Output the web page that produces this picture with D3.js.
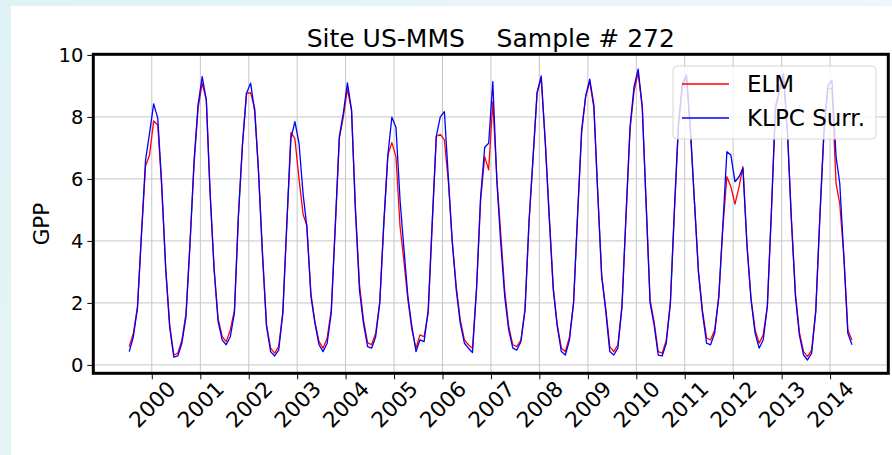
<!DOCTYPE html>
<html>
<head>
<meta charset="utf-8">
<script src="https://cdn.jsdelivr.net/npm/d3@7"></script>
<style>
  html, body { margin: 0; padding: 0; background: #ffffff; }
  svg { display: block; }
  text { font-family: "DejaVu Sans", sans-serif; fill: #000; }
</style>
</head>
<body>
<svg id="chart" width="892" height="455"></svg>
<script>
// Monthly GPP, first month and series
const startMonth = [1999, 6];   // July 1999 (month index 6)
const seriesNames = ["ELM", "KLPC Surr."];
const seriesColors = ["#ff0000", "#0000ff"];

const elm = [
  0.59, 1.02, 1.88, 4.2, 6.42, 6.77, 7.87, 7.74, 5.8, 3.1, 1.3, 0.32,
  0.38, 0.8, 1.67, 3.9, 6.5, 8.28, 9.09, 8.55, 5.6, 3.1, 1.5, 0.91,
  0.75, 1.13, 1.77, 4.8, 7.1, 8.76, 8.78, 8.28, 6.3, 3.6, 1.3, 0.54,
  0.38, 0.6, 1.7, 4.5, 7.5, 7.3, 6.0, 4.85, 4.5, 2.3, 1.4, 0.75,
  0.54, 0.86, 1.77, 4.4, 7.3, 8.0, 8.9, 8.2, 5.1, 2.6, 1.45, 0.72,
  0.65, 1.02, 2.05, 4.5, 6.77, 7.17, 6.72, 4.46, 3.39, 2.1, 1.13, 0.54,
  0.97, 0.91, 1.67, 4.5, 7.37, 7.44, 7.26, 5.86, 4.0, 2.5, 1.45, 0.81,
  0.65, 0.54, 2.5, 5.3, 6.72, 6.29, 8.49, 6.0, 4.3, 2.4, 1.24, 0.65,
  0.59, 0.8, 1.8, 4.6, 6.7, 8.78, 9.25, 7.2, 4.9, 2.5, 1.3, 0.54,
  0.43, 0.9, 2.0, 4.8, 7.5, 8.66, 9.14, 8.3, 5.7, 2.9, 1.85, 0.59,
  0.43, 0.65, 1.9, 4.75, 7.6, 8.82, 9.43, 8.3, 5.35, 2.1, 1.4, 0.43,
  0.38, 0.8, 2.0, 4.9, 7.7, 9.0, 9.25, 7.4, 5.3, 3.0, 1.75, 0.86,
  0.81, 1.13, 2.2, 4.4, 6.07, 5.75, 5.19, 5.75, 6.4, 3.85, 2.15, 1.13,
  0.7, 0.97, 1.9, 4.85, 8.25, 8.8, 9.25, 7.4, 4.75, 2.3, 1.05, 0.43,
  0.27, 0.48, 1.75, 4.65, 7.4, 8.92, 8.92, 5.86, 5.2, 3.5, 1.13, 0.8
];

const klpc = [
  0.43, 0.91, 1.83, 4.2, 6.61, 7.47, 8.42, 7.96, 5.9, 3.1, 1.2, 0.25,
  0.29, 0.7, 1.56, 3.9, 6.6, 8.39, 9.3, 8.55, 5.6, 3.06, 1.4, 0.8,
  0.65, 0.91, 1.67, 4.8, 7.15, 8.76, 9.09, 8.17, 6.29, 3.5, 1.24, 0.43,
  0.29, 0.48, 1.67, 4.57, 7.3, 7.85, 7.15, 5.5, 4.46, 2.2, 1.34, 0.65,
  0.43, 0.7, 1.67, 4.46, 7.37, 8.12, 9.1, 8.23, 5.0, 2.4, 1.34, 0.59,
  0.54, 0.91, 2.0, 4.57, 6.77, 7.99, 7.67, 5.3, 3.8, 2.2, 1.24, 0.43,
  0.81, 0.75, 1.77, 4.57, 7.37, 8.0, 8.17, 5.97, 4.0, 2.4, 1.34, 0.7,
  0.54, 0.4, 2.5, 5.4, 7.02, 7.15, 9.14, 5.9, 4.0, 2.2, 1.13, 0.54,
  0.48, 0.75, 1.77, 4.6, 6.72, 8.78, 9.32, 7.15, 4.78, 2.42, 1.24, 0.43,
  0.32, 0.8, 2.0, 4.8, 7.58, 8.66, 9.22, 8.39, 5.65, 2.85, 1.77, 0.43,
  0.32, 0.54, 1.88, 4.78, 7.69, 8.98, 9.54, 8.33, 5.3, 2.0, 1.3, 0.32,
  0.29, 0.7, 2.0, 5.0, 7.8, 9.1, 9.35, 7.47, 5.3, 2.96, 1.67, 0.7,
  0.65, 1.03, 2.2, 4.46, 6.88, 6.77, 5.91, 6.07, 6.34, 3.82, 2.1, 1.02,
  0.54, 0.81, 1.88, 4.89, 8.33, 8.87, 9.4, 7.4, 4.7, 2.2, 0.95, 0.32,
  0.16, 0.38, 1.72, 4.7, 7.5, 9.0, 9.19, 6.72, 5.86, 3.5, 1.02, 0.65
];

const yTicks = [0, 2, 4, 6, 8, 10];
const xTickYears = [2000, 2001, 2002, 2003, 2004, 2005, 2006, 2007,
                    2008, 2009, 2010, 2011, 2012, 2013, 2014];
const titleText = "Site US-MMS    Sample # 272";
const yLabelText = "GPP";

// Layout
const W = 892, H = 455;
const plot = { left: 93.3, right: 888.3, top: 54.3, bottom: 373.3 };

const svg = d3.select("#chart");

// Page background: pale cyan border strip with a white panel
const defs = svg.append("defs");
const grad = defs.append("linearGradient").attr("id", "bg").attr("x1", 0).attr("x2", 1).attr("y1", 0).attr("y2", 0.4);
grad.append("stop").attr("offset", "0%").attr("stop-color", "#dff2f5");
grad.append("stop").attr("offset", "100%").attr("stop-color", "#f0f8fa");
svg.append("rect").attr("width", W).attr("height", H).attr("fill", "url(#bg)");
svg.append("rect").attr("x", 11).attr("y", 6).attr("width", W - 11).attr("height", H - 6).attr("fill", "#ffffff");

// Dates for each monthly value
const dates = elm.map((_, i) => new Date(startMonth[0], startMonth[1] + i, 15));

const x = d3.scaleTime()
  .domain([new Date(1998, 9, 17), new Date(2015, 2, 16)])
  .range([plot.left, plot.right]);

const y = d3.scaleLinear()
  .domain([-0.27, 10.02])
  .range([plot.bottom, plot.top]);

const xTickDates = xTickYears.map(yr => new Date(yr, 0, 1));

// Grid
const grid = svg.append("g").attr("stroke", "#c6c6c6").attr("stroke-width", 1);
grid.selectAll("line.v").data(xTickDates).join("line")
  .attr("x1", d => x(d)).attr("x2", d => x(d))
  .attr("y1", plot.top).attr("y2", plot.bottom);
grid.selectAll("line.h").data(yTicks).join("line")
  .attr("x1", plot.left).attr("x2", plot.right)
  .attr("y1", d => y(d)).attr("y2", d => y(d));

// Axes
const xAxis = d3.axisBottom(x).tickValues(xTickDates).tickSize(6).tickFormat(d3.timeFormat("%Y"));
const gx = svg.append("g").attr("transform", `translate(0,${plot.bottom})`).call(xAxis);
gx.select(".domain").remove();
gx.selectAll(".tick line").attr("stroke", "#000").attr("stroke-width", 1);
gx.selectAll(".tick text")
  .attr("font-size", 21.5)
  .attr("font-family", "DejaVu Sans")
  .attr("text-anchor", "middle")
  .attr("dominant-baseline", "central")
  .attr("dy", null)
  .attr("y", 0)
  .attr("transform", "translate(0,31) rotate(-45)");

const yAxis = d3.axisLeft(y).tickValues(yTicks).tickSize(6).tickPadding(4);
const gy = svg.append("g").attr("transform", `translate(${plot.left},0)`).call(yAxis);
gy.select(".domain").remove();
gy.selectAll(".tick line").attr("stroke", "#000").attr("stroke-width", 1);
gy.selectAll(".tick text").attr("font-size", 19.5).attr("font-family", "DejaVu Sans");

// Series lines
const line = d3.line().x((d, i) => x(dates[i])).y(d => y(d));
[elm, klpc].forEach((s, k) => {
  svg.append("path")
    .datum(s)
    .attr("fill", "none")
    .attr("stroke", seriesColors[k])
    .attr("stroke-width", 1.3)
    .attr("stroke-linejoin", "round")
    .attr("d", line);
});

// Frame
svg.append("rect")
  .attr("x", plot.left).attr("y", plot.top)
  .attr("width", plot.right - plot.left).attr("height", plot.bottom - plot.top)
  .attr("fill", "none").attr("stroke", "#000").attr("stroke-width", 3);

// Title
svg.append("text")
  .attr("x", (plot.left + plot.right) / 2).attr("y", 47)
  .attr("text-anchor", "middle")
  .attr("font-size", 25)
  .style("white-space", "pre")
  .text(titleText);

// Y label
svg.append("text")
  .attr("transform", "translate(41,224) rotate(-90)")
  .attr("text-anchor", "middle")
  .attr("dominant-baseline", "central")
  .attr("font-size", 21.5)
  .text(yLabelText);

// Legend
const lg = svg.append("g").attr("transform", "translate(673,66)");
lg.append("rect")
  .attr("width", 203).attr("height", 73).attr("rx", 4)
  .attr("fill", "#ffffff").attr("fill-opacity", 0.8)
  .attr("stroke", "#d6d6d6").attr("stroke-width", 1);
seriesNames.forEach((name, k) => {
  const ly = 18 + k * 34;
  lg.append("line")
    .attr("x1", 9).attr("x2", 56).attr("y1", ly).attr("y2", ly)
    .attr("stroke", seriesColors[k]).attr("stroke-width", 1.3);
  lg.append("text")
    .attr("x", 74).attr("y", ly)
    .attr("dominant-baseline", "central")
    .attr("font-size", 23)
    .text(name);
});
</script>
</body>
</html>
